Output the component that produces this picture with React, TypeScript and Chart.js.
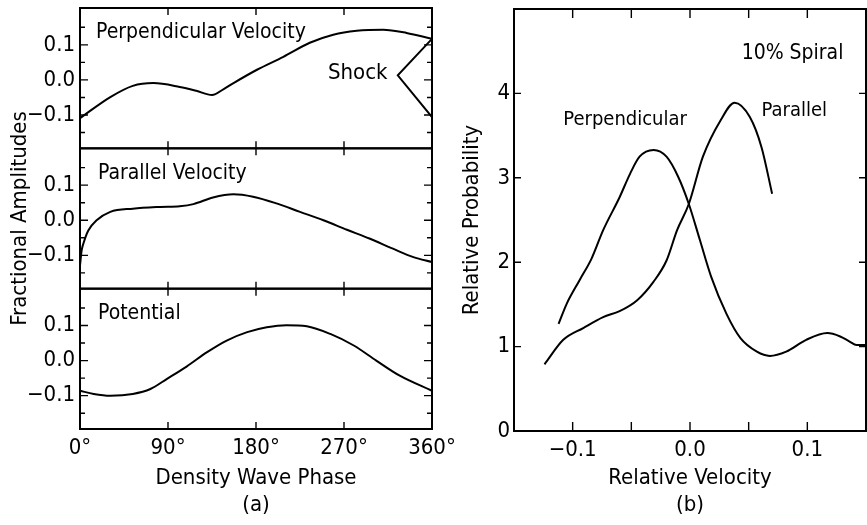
import React, { useEffect, useRef } from "react";
import { Chart, registerables } from "chart.js";

Chart.register(...registerables);

const FONT = '"DejaVu Sans Condensed", "DejaVu Sans", sans-serif';

// ---------------- Panel (a): Density wave phase ----------------
const phaseTicks = [0, 90, 180, 270, 360];
const phaseInnerTicks = [90, 180, 270];
const ampTicks = [-0.1, 0, 0.1];
const ampMinorTicks = [-0.15, -0.05, 0.05, 0.15];

const perpPhase = [0, 31, 54, 75, 102, 119, 135, 147, 157, 181, 208, 235, 259, 283, 310, 334, 360];
const perpVel = [-0.109, -0.049, -0.017, -0.009, -0.02, -0.031, -0.043, -0.026, -0.009, 0.029, 0.066, 0.106, 0.129, 0.14, 0.143, 0.134, 0.117];

const shockPhase = [360, 325, 360];
const shockVel = [0.117, 0.013, -0.106];

const parPhase = [0, 1.7, 3.4, 8.5, 17, 31, 54, 82, 102, 116, 136, 157, 177, 201, 225, 249, 273, 296, 320, 341, 360];
const parVel = [-0.129, -0.086, -0.067, -0.029, 0.0, 0.024, 0.033, 0.038, 0.04, 0.046, 0.065, 0.074, 0.067, 0.048, 0.024, 0.0, -0.027, -0.052, -0.081, -0.105, -0.119];

const potPhase = [0, 14, 31, 54, 72, 89, 109, 130, 150, 171, 191, 211, 232, 256, 280, 303, 327, 360];
const potVal = [-0.086, -0.095, -0.1, -0.095, -0.081, -0.052, -0.017, 0.024, 0.057, 0.081, 0.095, 0.101, 0.098, 0.076, 0.043, 0.0, -0.043, -0.086];

const panelALabels = [
  { text: "Perpendicular Velocity", axis: "yPerp", x: 16.4, y: 0.134, size: 21 },
  { text: "Shock", axis: "yPerp", x: 253.6, y: 0.02, size: 22 },
  { text: "Parallel Velocity", axis: "yPar", x: 18.4, y: 0.134, size: 21 },
  { text: "Potential", axis: "yPot", x: 18.4, y: 0.134, size: 21 },
];

// ---------------- Panel (b): Relative velocity ----------------
const velTicks = [-0.1, 0, 0.1];
const velMinorTicks = [-0.1, -0.05, 0, 0.05, 0.1];
const probTicks = [0, 1, 2, 3, 4];

const perpRV = [-0.112, -0.105, -0.094, -0.084, -0.074, -0.06, -0.051, -0.043, -0.031, -0.02, -0.01, -0.001, 0.0085, 0.018, 0.031, 0.043, 0.057, 0.068, 0.082, 0.099, 0.117, 0.128, 0.136, 0.142, 0.15];
const perpProb = [1.27, 1.51, 1.79, 2.04, 2.38, 2.77, 3.05, 3.25, 3.33, 3.25, 3.01, 2.69, 2.26, 1.83, 1.39, 1.1, 0.94, 0.89, 0.94, 1.08, 1.16, 1.12, 1.06, 1.02, 1.02];

const parRV = [-0.124, -0.108, -0.091, -0.074, -0.06, -0.045, -0.031, -0.02, -0.011, -0.001, 0.011, 0.026, 0.038, 0.051, 0.061, 0.07];
const parProb = [0.79, 1.08, 1.22, 1.35, 1.42, 1.55, 1.77, 2.02, 2.38, 2.69, 3.25, 3.68, 3.89, 3.72, 3.36, 2.81];

const panelBLabels = [
  { text: "10% Spiral", axis: "y", x: 0.044, y: 4.47, size: 21 },
  { text: "Perpendicular", axis: "y", x: -0.108, y: 3.69, size: 20 },
  { text: "Parallel", axis: "y", x: 0.061, y: 3.79, size: 20 },
];

// ---------------- helpers ----------------
const fmt = (v: number) => (v < 0 ? "\u2212" : "") + Math.abs(v).toFixed(1);
const pts = (xs: number[], ys: number[]) => xs.map((x, i) => ({ x, y: ys[i] }));

const lineDs = (data: any[], yAxisID: string, extra: any = {}) => ({
  data,
  yAxisID,
  borderColor: "#000",
  borderWidth: 2,
  pointRadius: 0,
  fill: false,
  cubicInterpolationMode: "monotone",
  ...extra,
});

type PanelCfg = {
  y: string;
  yMajor: number[];
  yMinor: number[];
  majorLen: number;
  minorLen: number;
  xTicks: number[];
  xLen: number;
};

function makeFramePlugin(panels: PanelCfg[], labels: any[]) {
  return {
    id: "frameTicks",
    afterDatasetsDraw(chart: any) {
      const ctx = chart.ctx;
      const ca = chart.chartArea;
      const xs = chart.scales.x;
      ctx.save();
      ctx.strokeStyle = "#000";
      ctx.lineCap = "butt";
      for (const p of panels) {
        const ys = chart.scales[p.y];
        const top = ys.top;
        const bottom = ys.bottom;
        ctx.lineWidth = 2;
        ctx.strokeRect(ca.left, top, ca.right - ca.left, bottom - top);
        ctx.lineWidth = 1.4;
        ctx.beginPath();
        const hTick = (v: number, len: number) => {
          const py = ys.getPixelForValue(v);
          ctx.moveTo(ca.left, py);
          ctx.lineTo(ca.left + len, py);
          ctx.moveTo(ca.right, py);
          ctx.lineTo(ca.right - len, py);
        };
        p.yMajor.forEach((v) => hTick(v, p.majorLen));
        p.yMinor.forEach((v) => hTick(v, p.minorLen));
        p.xTicks.forEach((v) => {
          const px = xs.getPixelForValue(v);
          ctx.moveTo(px, bottom);
          ctx.lineTo(px, bottom - p.xLen);
          ctx.moveTo(px, top);
          ctx.lineTo(px, top + p.xLen);
        });
        ctx.stroke();
      }
      ctx.fillStyle = "#000";
      ctx.textAlign = "left";
      ctx.textBaseline = "middle";
      for (const l of labels) {
        ctx.font = `${l.size}px ${FONT}`;
        ctx.fillText(l.text, xs.getPixelForValue(l.x), chart.scales[l.axis].getPixelForValue(l.y));
      }
      ctx.restore();
    },
  };
}

const noPadV = (s: any) => {
  s.paddingTop = 0;
  s.paddingBottom = 0;
};

const ampAxis = (title?: string) => ({
  type: "linear",
  position: "left",
  stack: "amp",
  min: -0.195,
  max: 0.205,
  grid: { display: false, drawTicks: false },
  border: { display: false },
  afterBuildTicks: (s: any) => {
    s.ticks = ampTicks.map((v) => ({ value: v }));
  },
  afterFit: (s: any) => {
    s.width = 80;
    noPadV(s);
  },
  ticks: { font: { size: 22, family: FONT }, color: "#000", padding: 5, callback: (v: any) => fmt(Number(v)) },
  title: title
    ? { display: true, text: title, color: "#000", font: { size: 22, family: FONT, lineHeight: 1.23 }, padding: { top: 6.5, bottom: 0 } }
    : { display: false },
});

export default function App() {
  const refA = useRef<HTMLCanvasElement>(null);
  const refB = useRef<HTMLCanvasElement>(null);

  useEffect(() => {
    Chart.defaults.font.family = FONT;
    Chart.defaults.color = "#000";

    const panelsA: PanelCfg[] = ["yPerp", "yPar", "yPot"].map((y) => ({
      y,
      yMajor: ampTicks,
      yMinor: ampMinorTicks,
      majorLen: 8,
      minorLen: 5,
      xTicks: phaseInnerTicks,
      xLen: 7,
    }));

    const chartA = new Chart(refA.current as HTMLCanvasElement, {
      type: "line",
      data: {
        datasets: [
          lineDs(pts(perpPhase, perpVel), "yPerp"),
          lineDs(pts(shockPhase, shockVel), "yPerp", { cubicInterpolationMode: "default", tension: 0 }),
          lineDs(pts(parPhase, parVel), "yPar"),
          lineDs(pts(potPhase, potVal), "yPot"),
        ],
      } as any,
      options: {
        responsive: false,
        animation: false,
        events: [],
        layout: { padding: { left: 0, top: 8, right: 38, bottom: 0 } },
        plugins: { legend: { display: false }, tooltip: { enabled: false } },
        scales: {
          x: {
            type: "linear",
            position: "bottom",
            min: 0,
            max: 360,
            grid: { display: false, drawTicks: false },
            border: { display: false },
            afterBuildTicks: (s: any) => {
              s.ticks = phaseTicks.map((v) => ({ value: v }));
            },
            afterFit: (s: any) => {
              s.height = 96;
            },
            ticks: { font: { size: 22, family: FONT }, color: "#000", padding: 6, maxRotation: 0, autoSkip: false, callback: (v: any) => `${v}\u00b0` },
            title: {
              display: true,
              text: ["Density Wave Phase", "(a)"],
              color: "#000",
              font: { size: 22, family: FONT, lineHeight: 1.23 },
              padding: { top: 0, bottom: 6.5 },
            },
          },
          yPot: ampAxis(),
          yPar: ampAxis("Fractional Amplitudes"),
          yPerp: ampAxis(),
        } as any,
      },
      plugins: [makeFramePlugin(panelsA, panelALabels)],
    } as any);

    const chartB = new Chart(refB.current as HTMLCanvasElement, {
      type: "line",
      data: {
        datasets: [lineDs(pts(perpRV, perpProb), "y"), lineDs(pts(parRV, parProb), "y")],
      } as any,
      options: {
        responsive: false,
        animation: false,
        events: [],
        layout: { padding: { left: 0, top: 9, right: 1, bottom: 0 } },
        plugins: { legend: { display: false }, tooltip: { enabled: false } },
        scales: {
          x: {
            type: "linear",
            position: "bottom",
            min: -0.15,
            max: 0.15,
            grid: { display: false, drawTicks: false },
            border: { display: false },
            afterBuildTicks: (s: any) => {
              s.ticks = velTicks.map((v) => ({ value: v }));
            },
            afterFit: (s: any) => {
              s.height = 94;
            },
            ticks: { font: { size: 22, family: FONT }, color: "#000", padding: 6, maxRotation: 0, autoSkip: false, callback: (v: any) => fmt(Number(v)) },
            title: {
              display: true,
              text: ["Relative Velocity", "(b)"],
              color: "#000",
              font: { size: 22, family: FONT, lineHeight: 1.23 },
              padding: { top: 0, bottom: 6.5 },
            },
          },
          y: {
            type: "linear",
            position: "left",
            min: 0,
            max: 5,
            grid: { display: false, drawTicks: false },
            border: { display: false },
            afterBuildTicks: (s: any) => {
              s.ticks = probTicks.map((v) => ({ value: v }));
            },
            afterFit: (s: any) => {
              s.width = 74;
              noPadV(s);
            },
            ticks: { font: { size: 22, family: FONT }, color: "#000", padding: 4, callback: (v: any) => String(v) },
            title: {
              display: true,
              text: "Relative Probability",
              color: "#000",
              font: { size: 22, family: FONT, lineHeight: 1.23 },
              padding: { top: 18.5, bottom: 0 },
            },
          },
        } as any,
      },
      plugins: [
        makeFramePlugin(
          [{ y: "y", yMajor: probTicks.slice(1), yMinor: [], majorLen: 7, minorLen: 0, xTicks: velMinorTicks, xLen: 9 }],
          panelBLabels
        ),
      ],
    } as any);

    return () => {
      chartA.destroy();
      chartB.destroy();
    };
  }, []);

  return (
    <div style={{ position: "absolute", left: 0, top: 0, width: 867, height: 525, background: "#fff", overflow: "hidden" }}>
      <canvas ref={refA} width={470} height={525} style={{ position: "absolute", left: 0, top: 0, width: 470, height: 525 }} />
      <canvas ref={refB} width={427} height={525} style={{ position: "absolute", left: 440, top: 0, width: 427, height: 525 }} />
    </div>
  );
}
